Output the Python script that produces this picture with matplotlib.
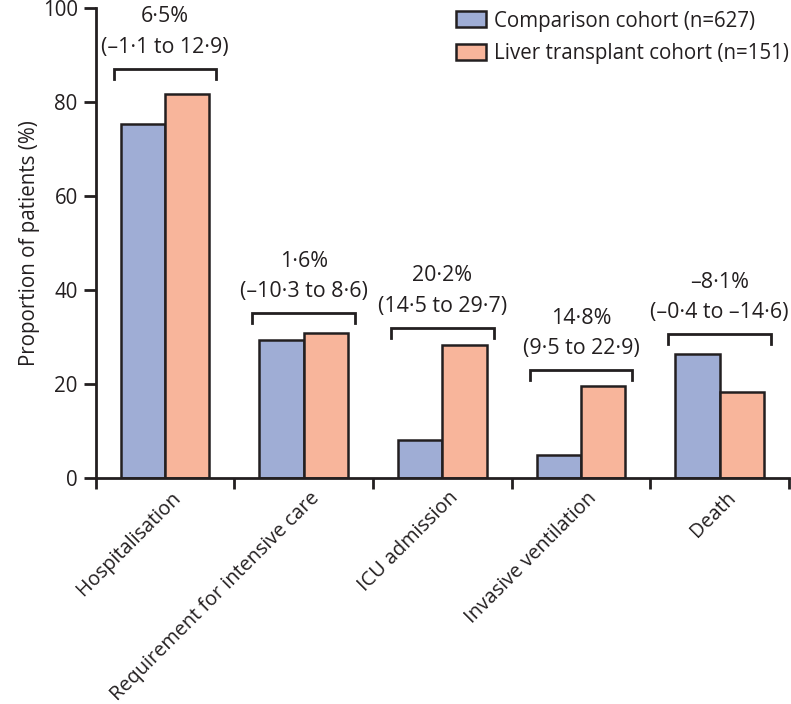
import matplotlib
matplotlib.use("Agg")
import matplotlib.pyplot as plt
import matplotlib.transforms as mtransforms
import numpy as np

plt.rcParams['font.family'] = ['Open Sans', 'DejaVu Sans']

categories = ["Hospitalisation", "Requirement for intensive care", "ICU admission",
              "Invasive ventilation", "Death"]
comparison = [75.3, 29.4, 8.1, 5.0, 26.4]
transplant = [81.7, 31.0, 28.4, 19.7, 18.3]
diff_labels = ["6·5%", "1·6%", "20·2%", "14·8%", "–8·1%"]
ci_labels = ["(–1·1 to 12·9)", "(–10·3 to 8·6)", "(14·5 to 29·7)", "(9·5 to 22·9)", "(–0·4 to –14·6)"]
bracket_levels = [87.1, 35.1, 32.0, 23.0, 30.6]
series_names = ["Comparison cohort (n=627)", "Liver transplant cohort (n=151)"]
yticks = [0, 20, 40, 60, 80, 100]

ink = "#231f20"
blue = "#9fadd5"
salmon = "#f8b59b"
fs = 14.8
fs_x = 14.3
fs_ann = 15.4

fig = plt.figure(figsize=(7.91, 7.04), dpi=100)
ax = fig.add_axes([0.121, 0.3206, 0.8765, 0.668])

x = np.arange(len(categories))
w = 0.32
ax.bar(x - w/2, comparison, w, color=blue, edgecolor=ink, linewidth=1.8,
       label=series_names[0], zorder=2)
ax.bar(x + w/2, transplant, w, color=salmon, edgecolor=ink, linewidth=1.8,
       label=series_names[1], zorder=2)

for xi, lvl, d, ci in zip(x, bracket_levels, diff_labels, ci_labels):
    ax.plot([xi - 0.37, xi - 0.37, xi + 0.37, xi + 0.37],
            [lvl - 2.1, lvl, lvl, lvl - 2.1], color=ink, lw=2.0,
            solid_joinstyle='miter', clip_on=False)
    ax.annotate(ci, (xi, lvl), xytext=(0, 15.5), textcoords='offset points',
                ha='center', va='center', fontsize=fs_ann, color=ink)
    ax.annotate(d, (xi, lvl), xytext=(0, 37.5), textcoords='offset points',
                ha='center', va='center', fontsize=fs_ann, color=ink)

ax.set_xlim(-0.5, len(categories) - 0.5)
ax.set_ylim(0, 100)
ax.set_yticks(yticks)
ax.set_yticklabels([str(v) for v in yticks], fontsize=fs, color=ink)
ax.set_xticks(x)
ax.set_xticklabels(categories, rotation=45, ha='right', fontsize=fs_x, color=ink)
ax.set_xticks(np.arange(len(categories) + 1) - 0.5, minor=True)
ax.tick_params(axis='x', which='major', length=0, pad=7)
ax.tick_params(axis='x', which='minor', length=8, width=2, color=ink)
ax.tick_params(axis='y', length=9, width=2, color=ink, pad=4)
offset = mtransforms.ScaledTranslation(0.2, 0, fig.dpi_scale_trans)
for lab in ax.get_xticklabels():
    lab.set_transform(lab.get_transform() + offset)

for s in ['top', 'right']:
    ax.spines[s].set_visible(False)
for s in ['left', 'bottom']:
    ax.spines[s].set_linewidth(2)
    ax.spines[s].set_color(ink)

ax.set_ylabel("Proportion of patients (%)", fontsize=fs, color=ink, labelpad=2)

leg = fig.legend(loc='upper right', bbox_to_anchor=(1.0, 0.988), frameon=False,
                 fontsize=fs, handlelength=1.45, handleheight=0.8,
                 handletextpad=0.4, labelspacing=0.55, borderpad=0.1,
                 borderaxespad=0.0)
for t in leg.get_texts():
    t.set_color(ink)

fig.savefig("out.png", dpi=100)
